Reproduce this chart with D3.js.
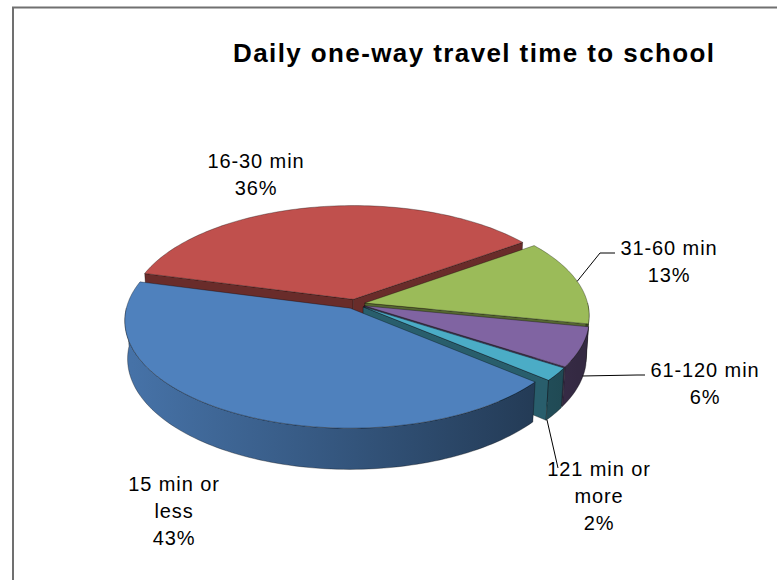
<!DOCTYPE html>
<html>
<head>
<meta charset="utf-8">
<script src="https://cdn.jsdelivr.net/npm/d3@7"></script>
<style>
  body { margin: 0; background: #fff; }
  svg text { font-family: "Liberation Sans", Arial, sans-serif; fill: #000; }
</style>
</head>
<body>
<svg id="chart" width="777" height="580"></svg>
<script>
// data
var categories = ["15 min or less", "16-30 min", "31-60 min", "61-120 min", "121 min or more"];
var values = [43, 36, 13, 6, 2];
var labelLines = [["15 min or", "less"], ["16-30 min"], ["31-60 min"], ["61-120 min"], ["121 min or", "more"]];
var colors = ["#4F81BD", "#C0504D", "#9BBB59", "#8064A2", "#4BACC6"];

var svg = d3.select("#chart");

// chart frame (runs off the right and bottom)
svg.append("rect")
  .attr("x", 13).attr("y", 7.5).attr("width", 800).attr("height", 600)
  .attr("fill", "none").attr("stroke", "#707070").attr("stroke-width", 2);

svg.append("text")
  .attr("x", 233).attr("y", 62)
  .attr("font-size", 26).attr("font-weight", "bold").attr("letter-spacing", 1.4)
  .text("Daily one-way travel time to school");

// 3d pie setup
var cx = 355, cy = 304, S = 223, D = 7.8, H = 0.195, explode = 0.045;
var phi = 28.2 * Math.PI / 180, sinP = Math.sin(phi), cosP = Math.cos(phi);
var startAngle = 130 * Math.PI / 180;

function project(a, r, h, off) {
  var u = r * Math.sin(a) + off[0], v = -r * Math.cos(a) + off[1];
  var depth = D - (v * cosP + h * sinP);
  var k = S * D / depth;
  return [cx + u * k, cy - (-v * sinP + h * cosP) * k];
}

function arcPts(a0, a1, h, off) {
  var n = Math.max(2, Math.ceil(Math.abs(a1 - a0) * 40));
  return d3.range(n + 1).map(function(i) { return project(a0 + (a1 - a0) * i / n, 1, h, off); });
}

var line = d3.line();

var pie = d3.pie().sort(null).value(function(d) { return d; })
  .startAngle(startAngle).endAngle(startAngle + 2 * Math.PI);

var slices = pie(values).map(function(d, i) {
  var mid = (d.startAngle + d.endAngle) / 2;
  d.mid = mid;
  d.off = [explode * Math.sin(mid), -explode * Math.cos(mid)];
  d.color = colors[i];
  d.index = i;
  return d;
});

var defs = svg.append("defs");
slices.forEach(function(d, i) {
  var c = d3.color(d.color);
  var g = defs.append("linearGradient").attr("id", "side" + i)
    .attr("gradientUnits", "userSpaceOnUse")
    .attr("x1", cx - S).attr("x2", cx + S).attr("y1", 0).attr("y2", 0);
  g.append("stop").attr("offset", 0).attr("stop-color", c.darker(0.35));
  g.append("stop").attr("offset", 0.5).attr("stop-color", c.darker(1.2));
  g.append("stop").attr("offset", 1).attr("stop-color", c.darker(2.5));
});

var edge = "rgba(0,0,0,0.45)";
var back = svg.append("g");
var tops = svg.append("g");

// walls and outer sides, back to front
slices.slice().sort(function(a, b) { return -Math.cos(a.mid) - -Math.cos(b.mid); }).forEach(function(d) {
  var c = d3.color(d.color);
  var walls = [];
  if (Math.sin(d.startAngle) < 0) walls.push(d.startAngle);
  if (Math.sin(d.endAngle) > 0) walls.push(d.endAngle);
  walls.forEach(function(a) {
    var pts = [project(0, 0, 0, d.off), project(a, 1, 0, d.off), project(a, 1, -H, d.off), project(0, 0, -H, d.off)];
    back.append("path").attr("d", line(pts) + "Z")
      .attr("fill", c.darker(1.7)).attr("stroke", edge).attr("stroke-width", 0.7);
  });
  [[Math.PI / 2, 1.5 * Math.PI], [2.5 * Math.PI, 3.5 * Math.PI]].forEach(function(w) {
    var a0 = Math.max(d.startAngle, w[0]), a1 = Math.min(d.endAngle, w[1]);
    if (a1 <= a0) return;
    var pts = arcPts(a0, a1, 0, d.off).concat(arcPts(a1, a0, -H, d.off));
    back.append("path").attr("d", line(pts) + "Z")
      .attr("fill", "url(#side" + d.index + ")").attr("stroke", edge).attr("stroke-width", 0.7);
  });
});

// top faces
slices.forEach(function(d) {
  var pts = [project(0, 0, 0, d.off)].concat(arcPts(d.startAngle, d.endAngle, 0, d.off));
  tops.append("path").attr("d", line(pts) + "Z")
    .attr("fill", d.color).attr("stroke", edge).attr("stroke-width", 0.7);
});

// labels
var labelAt = [[174, 491], [256, 168], [669, 255], [705, 377], [599, 476]];
var leaderFrom = [null, null, [0.5, 0], [0.3, -0.95], [0.95, -1]];
var leaderTo = [null, null, [[600, 253], [615, 253]], [[637, 375], [645, 375]], [[558, 468]]];
var lineH = 27;

slices.forEach(function(d, i) {
  var lines = labelLines[i].concat([values[i] + "%"]);
  var t = svg.append("text").attr("font-size", 20).attr("letter-spacing", 0.9)
    .attr("text-anchor", "middle");
  lines.forEach(function(s, j) {
    t.append("tspan").attr("x", labelAt[i][0]).attr("y", labelAt[i][1] + j * lineH).text(s);
  });
  if (leaderFrom[i]) {
    var a = d.startAngle + (d.endAngle - d.startAngle) * leaderFrom[i][0];
    var pts = [project(a, 1, leaderFrom[i][1] * H, d.off)].concat(leaderTo[i]);
    svg.append("path").attr("d", line(pts)).attr("fill", "none")
      .attr("stroke", "#000").attr("stroke-width", 1);
  }
});
</script>
</body>
</html>
